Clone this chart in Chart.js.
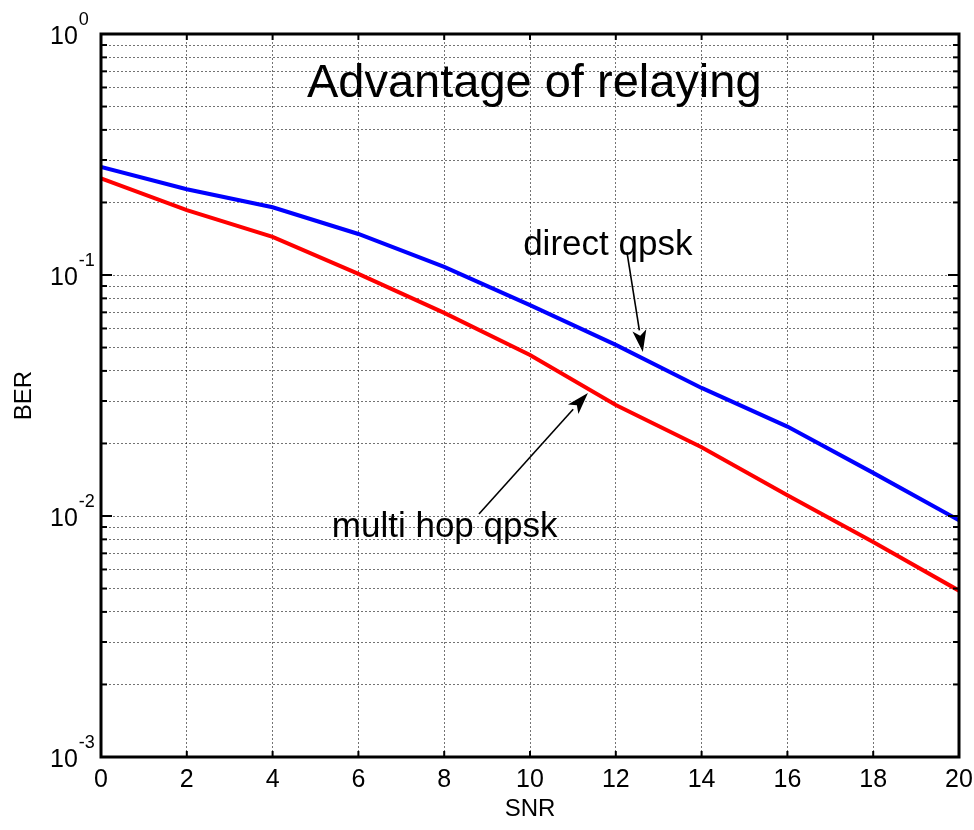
<!DOCTYPE html>
<html>
<head>
<meta charset="utf-8">
<script src="https://cdn.jsdelivr.net/npm/chart.js@4/dist/chart.umd.min.js"></script>
<style>
  html, body { margin: 0; padding: 0; background: #fff; }
</style>
</head>
<body>
<canvas id="ber-chart" width="974" height="830"></canvas>
<script>
const snr = [0, 2, 4, 6, 8, 10, 12, 14, 16, 18, 20];
const berDirect = [0.281, 0.227, 0.191, 0.148, 0.108, 0.075, 0.0513, 0.034, 0.0235, 0.0151, 0.0096];
const berMultiHop = [0.252, 0.186, 0.144, 0.101, 0.0696, 0.0466, 0.0289, 0.0193, 0.0122, 0.0078, 0.0049];
const xTicks = [0, 2, 4, 6, 8, 10, 12, 14, 16, 18, 20];
const yDecades = [-3, -2, -1, 0];
const yMinor = [1, 2, 3, 4, 5, 6, 7, 8, 9];

// text labels and arrows, anchored in data coordinates
const notes = [
  { text: "Advantage of relaying", x: 4.8, y: 0.548, size: 47 },
  { text: "direct qpsk", x: 9.84, y: 0.121, size: 35 },
  { text: "multi hop qpsk", x: 5.38, y: 0.00818, size: 35 },
];
const arrows = [
  { from: [12.26, 0.1245], to: [12.63, 0.0479] },
  { from: [8.81, 0.0102], to: [11.35, 0.0324] },
];

const FONT = "'Liberation Sans', Arial, sans-serif";

const yTickValues = [];
yDecades.forEach((d, i) => {
  const n = i === yDecades.length - 1 ? 1 : yMinor.length;
  for (let k = 0; k < n; k++) yTickValues.push(yMinor[k] * Math.pow(10, d));
});

function toPoints(ys) {
  return snr.map((x, i) => ({ x: x, y: ys[i] }));
}

const matlabBox = {
  id: "matlabBox",
  afterDatasetsDraw(chart) {
    const { ctx, chartArea: a, scales } = chart;
    const x = scales.x, y = scales.y;
    const line = (x1, y1, x2, y2) => {
      ctx.beginPath();
      ctx.moveTo(x1, y1);
      ctx.lineTo(x2, y2);
      ctx.stroke();
    };
    ctx.save();
    ctx.strokeStyle = "#000";
    ctx.lineWidth = 2;
    x.ticks.forEach(t => {
      const px = x.getPixelForValue(t.value);
      line(px, a.bottom, px, a.bottom - 6);
      line(px, a.top, px, a.top + 6);
    });
    y.ticks.forEach(t => {
      const py = y.getPixelForValue(t.value);
      const len = t.major ? 11 : 6;
      line(a.left, py, a.left + len, py);
      line(a.right, py, a.right - len, py);
    });
    ctx.lineWidth = 3;
    ctx.strokeRect(a.left, a.top, a.right - a.left, a.bottom - a.top);

    // y tick labels with superscript exponents
    ctx.fillStyle = "#000";
    ctx.textAlign = "left";
    ctx.textBaseline = "alphabetic";
    yDecades.forEach(d => {
      const py = y.getPixelForValue(Math.pow(10, d));
      ctx.font = "25px " + FONT;
      ctx.fillText("10", 50, py + 10);
      const w = ctx.measureText("10").width;
      ctx.font = "18px " + FONT;
      ctx.fillText(String(d), 50 + w + 1, py - 9);
    });

    // annotations
    notes.forEach(n => {
      ctx.font = n.size + "px " + FONT;
      ctx.fillText(n.text, x.getPixelForValue(n.x), y.getPixelForValue(n.y));
    });
    ctx.lineWidth = 1.6;
    arrows.forEach(ar => {
      const x1 = x.getPixelForValue(ar.from[0]), y1 = y.getPixelForValue(ar.from[1]);
      const x2 = x.getPixelForValue(ar.to[0]), y2 = y.getPixelForValue(ar.to[1]);
      const ang = Math.atan2(y2 - y1, x2 - x1);
      const hl = 22, hw = 7;
      const bx = x2 - hl * Math.cos(ang), by = y2 - hl * Math.sin(ang);
      line(x1, y1, bx, by);
      ctx.beginPath();
      ctx.moveTo(x2, y2);
      ctx.lineTo(bx + hw * Math.sin(ang), by - hw * Math.cos(ang));
      ctx.lineTo(bx + 0.25 * hl * Math.cos(ang), by + 0.25 * hl * Math.sin(ang));
      ctx.lineTo(bx - hw * Math.sin(ang), by + hw * Math.cos(ang));
      ctx.closePath();
      ctx.fill();
    });
    ctx.restore();
  }
};

const ctx = document.getElementById("ber-chart").getContext("2d");
new Chart(ctx, {
  type: "line",
  data: {
    datasets: [
      {
        label: "direct qpsk",
        data: toPoints(berDirect),
        borderColor: "#0000ff",
        borderWidth: 4,
        pointRadius: 0,
        tension: 0,
        fill: false,
      },
      {
        label: "multi hop qpsk",
        data: toPoints(berMultiHop),
        borderColor: "#ff0000",
        borderWidth: 4,
        pointRadius: 0,
        tension: 0,
        fill: false,
      },
    ],
  },
  options: {
    animation: { duration: 0 },
    responsive: false,
    layout: { padding: { top: 34, right: 15, left: 0, bottom: 0 } },
    plugins: { legend: { display: false }, tooltip: { enabled: false } },
    scales: {
      x: {
        type: "linear",
        min: 0,
        max: 20,
        afterBuildTicks: s => { s.ticks = xTicks.map(v => ({ value: v })); },
        afterFit: s => { s.height = 73; s.paddingLeft = 0; s.paddingRight = 0; },
        ticks: { color: "#000", font: { family: FONT, size: 25 }, padding: 8 },
        grid: { color: "rgba(0,0,0,0.55)", lineWidth: 1, drawTicks: false },
        border: { display: false, dash: [2, 2] },
        title: { display: true, text: "SNR", color: "#000", font: { family: FONT, size: 24 }, padding: { top: 0, bottom: 6 } },
      },
      y: {
        type: "logarithmic",
        min: 0.001,
        max: 1,
        afterBuildTicks: s => {
          s.ticks = yTickValues.map(v => ({ value: v, major: yDecades.some(d => Math.abs(v - Math.pow(10, d)) < 1e-12) }));
        },
        afterFit: s => { s.width = 101; s.paddingTop = 0; s.paddingBottom = 0; },
        ticks: { display: false },
        grid: { color: "rgba(0,0,0,0.55)", lineWidth: 1, drawTicks: false },
        border: { display: false, dash: [2, 2] },
        title: { display: true, text: "BER", color: "#000", font: { family: FONT, size: 24 }, padding: { top: 10, bottom: 0 } },
      },
    },
  },
  plugins: [matlabBox],
});
</script>
</body>
</html>
